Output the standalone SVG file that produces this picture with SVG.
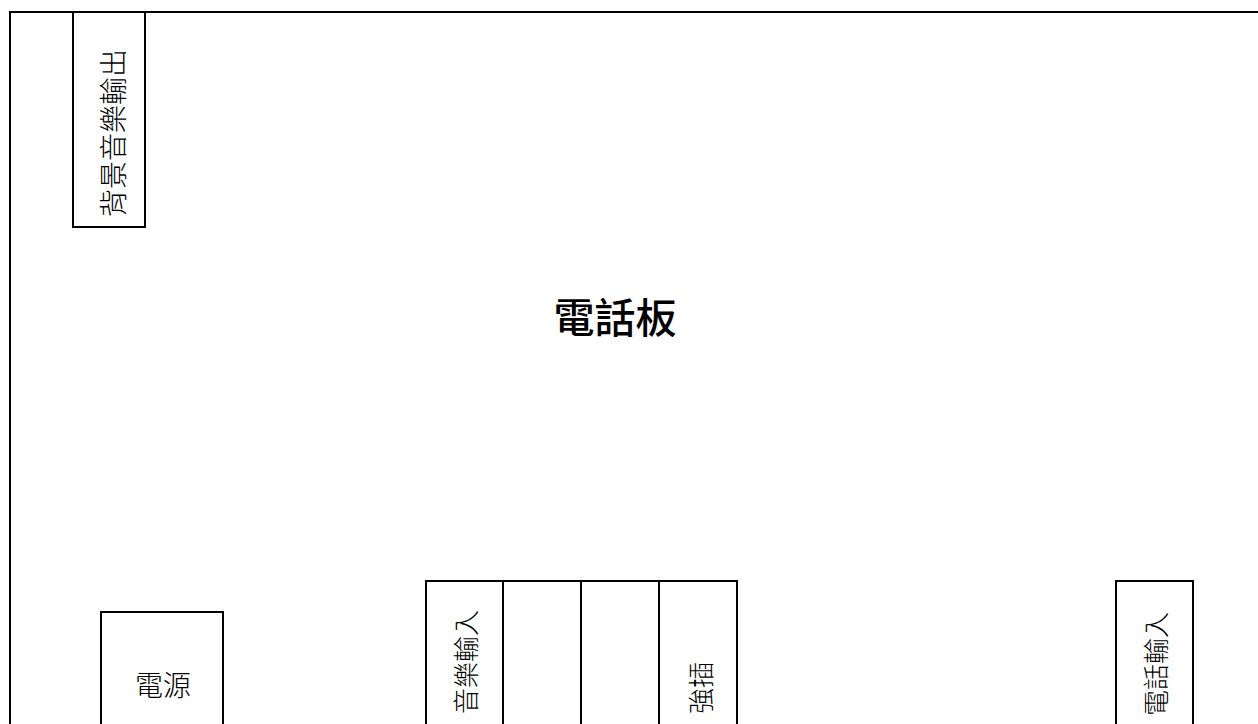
<svg xmlns="http://www.w3.org/2000/svg" width="1258" height="724" viewBox="0 0 1258 724">
<style>
.b{fill:#fff;stroke:#000;stroke-width:2}
.t{font-family:"Noto Sans CJK TC","Noto Sans CJK SC",sans-serif;font-size:26px;font-weight:300;fill:#000}
</style>
<rect width="1258" height="724" fill="#fff"/>
<g id="board">
<rect class="b" x="10" y="12" width="1260" height="730"/>
<text x="615" y="333" text-anchor="middle" style="font-family:'Noto Sans CJK TC','Noto Sans CJK SC',sans-serif;font-size:41px;font-weight:500;fill:#000">電話板</text>
</g>
<g id="bgm-out">
<rect class="b" x="73" y="12" width="72" height="215"/>
<text class="t" transform="translate(124,217) rotate(-90)" style="font-size:28px">背景音樂輸出</text>
</g>
<g id="power">
<rect class="b" x="101" y="612" width="122" height="130"/>
<text class="t" x="163" y="696" text-anchor="middle" style="font-size:28px">電源</text>
</g>
<g id="music-in">
<rect class="b" x="426" y="581" width="77" height="160"/>
<text class="t" transform="translate(476,714) rotate(-90)">音樂輸入</text>
</g>
<g id="slot2">
<rect class="b" x="503" y="581" width="78" height="160"/>
</g>
<g id="slot3">
<rect class="b" x="581" y="581" width="78" height="160"/>
</g>
<g id="force">
<rect class="b" x="659" y="581" width="78" height="160"/>
<text class="t" transform="translate(711,714) rotate(-90)">強插</text>
</g>
<g id="phone-in">
<rect class="b" x="1116" y="581" width="77" height="160"/>
<text class="t" transform="translate(1166,716) rotate(-90)">電話輸入</text>
</g>
<g id="connectors"></g>
</svg>
